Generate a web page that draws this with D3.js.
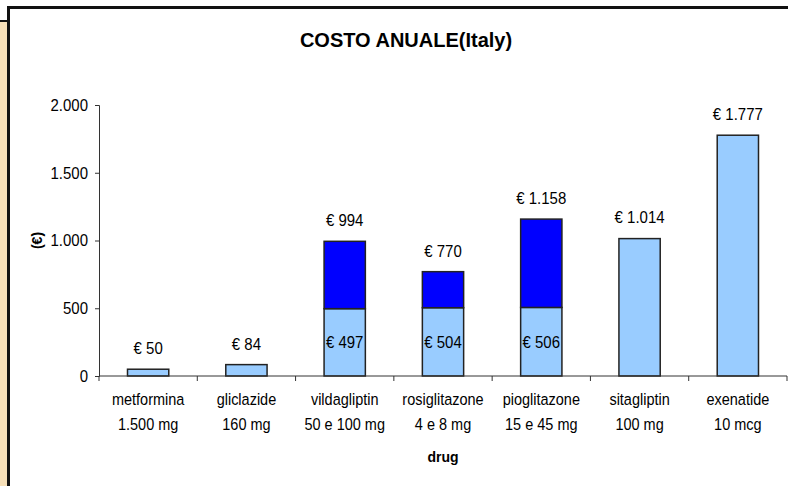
<!DOCTYPE html>
<html>
<head>
<meta charset="utf-8">
<script src="https://cdn.jsdelivr.net/npm/d3@7"></script>
<style>
  body { margin: 0; background: #fff; }
  svg { display: block; font-family: "Liberation Sans", Arial, sans-serif; }
</style>
</head>
<body>
<svg id="chart" width="788" height="486"></svg>
<script>
// data
var drugs = ["metformina", "gliclazide", "vildagliptin", "rosiglitazone", "pioglitazone", "sitagliptin", "exenatide"];
var doses = ["1.500 mg", "160 mg", "50 e 100 mg", "4 e 8 mg", "15 e 45 mg", "100 mg", "10 mcg"];
var lowDose = [50, 84, 497, 504, 506, 1014, 1777];   // light blue part
var highDose = [0, 0, 497, 266, 652, 0, 0];          // extra cost of the higher dose
var yTicks = [0, 500, 1000, 1500, 2000];

var it = d3.formatLocale({decimal: ",", thousands: ".", grouping: [3], currency: ["€ ", ""]});
var fmt = it.format(",d");
var money = it.format("$,d");

var svg = d3.select("#chart"),
    plotLeft = 99, plotRight = 787, plotTop = 105, plotBottom = 376;

// the original text is a bit taller than Liberation Sans, stretch it a little
function stretch(sel, k) {
    sel.each(function () {
        var t = d3.select(this);
        var tx = +t.attr("x") || 0, ty = +t.attr("y") || 0;
        t.attr("x", 0).attr("y", 0)
            .attr("transform", "translate(" + tx + "," + ty + ") scale(1," + k + ")");
    });
}

// frame + side panel
svg.append("rect")
    .attr("x", 0).attr("y", 22).attr("width", 8).attr("height", 464)
    .attr("fill", "#f6dfb8");
svg.append("line").attr("x1", 0).attr("x2", 9).attr("y1", 21).attr("y2", 21)
    .attr("stroke", "#111").attr("stroke-width", 2);
svg.append("line").attr("x1", 8.5).attr("x2", 8.5).attr("y1", 6).attr("y2", 486)
    .attr("stroke", "#111").attr("stroke-width", 3);
svg.append("line").attr("x1", 7).attr("x2", 788).attr("y1", 7.5).attr("y2", 7.5)
    .attr("stroke", "#111").attr("stroke-width", 3);

var x = d3.scaleBand().domain(drugs).range([plotLeft, plotRight])
    .paddingInner(0.58).paddingOuter(0.29);
var y = d3.scaleLinear().domain([0, 2000]).range([plotBottom, plotTop]);

// title
svg.append("text")
    .attr("x", 406).attr("y", 47)
    .attr("text-anchor", "middle")
    .style("font-size", "20px").style("font-weight", "bold")
    .text("COSTO ANUALE(Italy)");

// y axis
var yAxis = svg.append("g")
    .attr("transform", "translate(" + plotLeft + ",0)")
    .call(d3.axisLeft(y).tickValues(yTicks).tickFormat(fmt).tickSizeOuter(0).tickSize(4).tickPadding(7));
yAxis.selectAll("text").style("font-size", "15px").attr("fill", "#000").call(stretch, 1.12);
yAxis.selectAll("line, path").attr("stroke", "#333");

svg.append("text")
    .attr("transform", "translate(37," + ((plotTop + plotBottom) / 2) + ") rotate(-90)")
    .attr("text-anchor", "middle").attr("dy", "0.35em")
    .style("font-size", "14px").style("font-weight", "bold")
    .text("(€)");

// bars
var rows = drugs.map(function (d, i) {
    return {drug: d, dose: doses[i], low: lowDose[i], high: highDose[i], total: lowDose[i] + highDose[i]};
});

var g = svg.append("g");
g.selectAll(".low")
    .data(rows).enter().append("rect")
    .attr("class", "low")
    .attr("x", function (d) { return x(d.drug); })
    .attr("y", function (d) { return y(d.low); })
    .attr("width", x.bandwidth())
    .attr("height", function (d) { return y(0) - y(d.low); })
    .attr("fill", "#99ccff").attr("stroke", "#222").attr("stroke-width", 1.5);

g.selectAll(".high")
    .data(rows.filter(function (d) { return d.high > 0; })).enter().append("rect")
    .attr("class", "high")
    .attr("x", function (d) { return x(d.drug); })
    .attr("y", function (d) { return y(d.total); })
    .attr("width", x.bandwidth())
    .attr("height", function (d) { return y(d.low) - y(d.total); })
    .attr("fill", "#0000ff").attr("stroke", "#222").attr("stroke-width", 1.5);

// x axis
svg.append("line")
    .attr("x1", plotLeft).attr("x2", plotRight).attr("y1", plotBottom).attr("y2", plotBottom)
    .attr("stroke", "#333");
svg.selectAll(".xtick")
    .data(d3.range(drugs.length + 1)).enter().append("line")
    .attr("x1", function (i) { return plotLeft + i * x.step(); })
    .attr("x2", function (i) { return plotLeft + i * x.step(); })
    .attr("y1", plotBottom).attr("y2", plotBottom + 5)
    .attr("stroke", "#333");

svg.selectAll(".cat")
    .data(rows).enter().append("text")
    .attr("class", "cat")
    .attr("text-anchor", "middle")
    .attr("x", function (d) { return x(d.drug) + x.bandwidth() / 2; })
    .attr("y", 405)
    .style("font-size", "14.5px")
    .text(function (d) { return d.drug; })
    .call(stretch, 1.12);
svg.selectAll(".dose")
    .data(rows).enter().append("text")
    .attr("class", "dose")
    .attr("text-anchor", "middle")
    .attr("x", function (d) { return x(d.drug) + x.bandwidth() / 2; })
    .attr("y", 430)
    .style("font-size", "14.5px")
    .text(function (d) { return d.dose; })
    .call(stretch, 1.12);

svg.append("text")
    .attr("x", (plotLeft + plotRight) / 2).attr("y", 462)
    .attr("text-anchor", "middle")
    .style("font-size", "14px").style("font-weight", "bold")
    .text("drug")
    .call(stretch, 1.1);

// value labels
svg.selectAll(".total")
    .data(rows).enter().append("text")
    .attr("class", "total")
    .attr("x", function (d) { return x(d.drug) + x.bandwidth() / 2; })
    .attr("y", function (d) { return y(d.total) - 21; })
    .attr("dy", "0.35em")
    .attr("text-anchor", "middle")
    .style("font-size", "15px")
    .text(function (d) { return money(d.total); })
    .call(stretch, 1.12);

svg.selectAll(".inner")
    .data(rows.filter(function (d) { return d.high > 0; })).enter().append("text")
    .attr("class", "inner")
    .attr("x", function (d) { return x(d.drug) + x.bandwidth() / 2; })
    .attr("y", function (d) { return (y(0) + y(d.low)) / 2; })
    .attr("dy", "0.35em")
    .attr("text-anchor", "middle")
    .style("font-size", "15px")
    .text(function (d) { return money(d.low); })
    .call(stretch, 1.12);
</script>
</body>
</html>
